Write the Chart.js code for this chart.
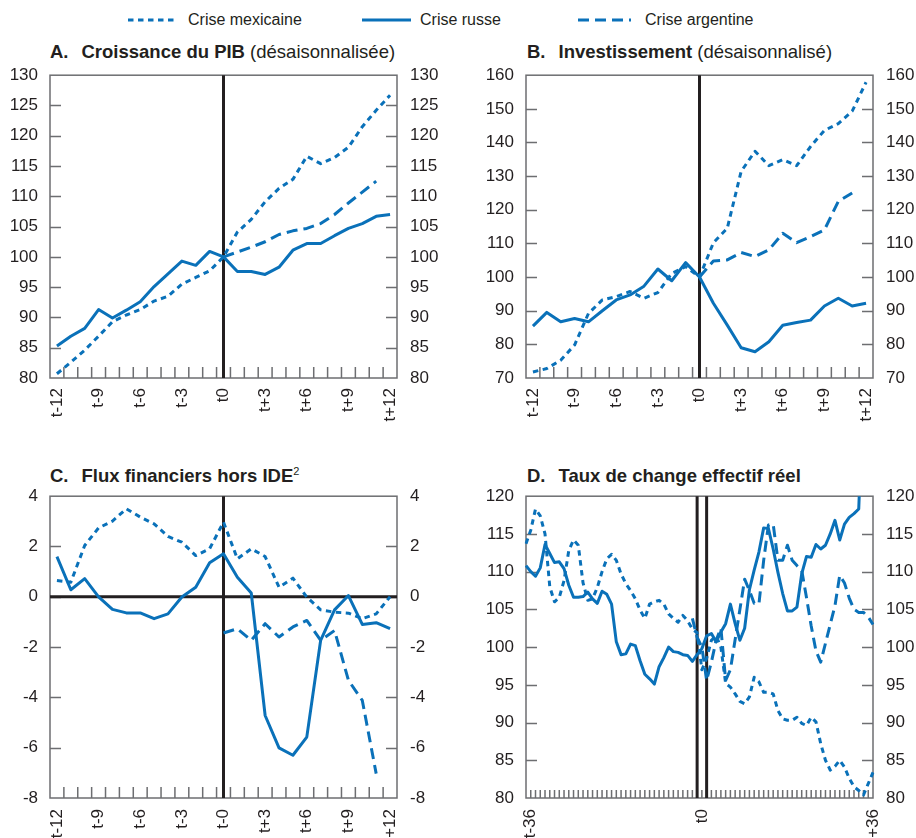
<!DOCTYPE html>
<html>
<head>
<meta charset="utf-8">
<script src="https://cdn.jsdelivr.net/npm/chart.js@4.4.1/dist/chart.umd.min.js"></script>
<style>
  body { margin: 0; background: #fff; width: 916px; height: 838px; overflow: hidden; position: relative;
         font-family: "Liberation Sans", Arial, sans-serif; color: #231f20; }
  .box { position: absolute; }
  .title { position: absolute; font-size: 18.5px; line-height: 18px; white-space: nowrap; }
  .title b span { margin-right: 13px; }
  .title sup { font-weight: normal; font-size: 11px; vertical-align: 7px; line-height: 0; }
  .leg { position: absolute; top: 12px; font-size: 16px; line-height: 16px; white-space: nowrap; }
  .leg svg { position: absolute; top: 5px; }
</style>
</head>
<body>

<div class="leg" style="left:128px"><svg width="50" height="6" style="left:0"><line x1="0" y1="3" x2="50" y2="3" stroke="#0a71b9" stroke-width="3" stroke-dasharray="5.5 4.5"/></svg><span style="margin-left:60px">Crise mexicaine</span></div>
<div class="leg" style="left:362px"><svg width="49" height="6" style="left:0"><line x1="0" y1="3" x2="49" y2="3" stroke="#0a71b9" stroke-width="3"/></svg><span style="margin-left:58px">Crise russe</span></div>
<div class="leg" style="left:578px"><svg width="53" height="6" style="left:0"><line x1="0" y1="3" x2="53" y2="3" stroke="#0a71b9" stroke-width="3" stroke-dasharray="11 6"/></svg><span style="margin-left:67px">Crise argentine</span></div>

<div class="title" style="left:50px;top:43px"><b><span>A.</span>Croissance du PIB</b> (désaisonnalisée)</div>
<div class="title" style="left:527px;top:43px"><b><span>B.</span>Investissement</b> (désaisonnalisé)</div>
<div class="title" style="left:50px;top:467px"><b><span>C.</span>Flux financiers hors IDE</b><sup>2</sup></div>
<div class="title" style="left:527px;top:467px"><b><span>D.</span>Taux de change effectif réel</b></div>

<div class="box" style="left:0;top:52px"><canvas id="pa" width="460" height="388"></canvas></div>
<div class="box" style="left:460px;top:52px"><canvas id="pb" width="456" height="388"></canvas></div>
<div class="box" style="left:0;top:473px"><canvas id="pc" width="460" height="365"></canvas></div>
<div class="box" style="left:460px;top:473px"><canvas id="pd" width="456" height="365"></canvas></div>

<script>
const BLUE = '#0a71b9';
const INK = '#231f20';
const FRAME = '#6d6e71';
const TICK_FONT = { family: '"Liberation Sans", Arial, sans-serif', size: 17 };

// ── categories ─────────────────────────────────────────
const quarters = ['t-12','t-11','t-10','t-9','t-8','t-7','t-6','t-5','t-4','t-3','t-2','t-1','t0',
  't+1','t+2','t+3','t+4','t+5','t+6','t+7','t+8','t+9','t+10','t+11','t+12'];
const quarterTicks = ['t-12','t-9','t-6','t-3','t0','t+3','t+6','t+9','t+12'];
const quartersC = ['t-12','t-11','t-10','t-9','t-8','t-7','t-6','t-5','t-4','t-3','t-2','t-1','t-0',
  't+1','t+2','t+3','t+4','t+5','t+6','t+7','t+8','t+9','t+10','t+11','t+12'];
const quarterTicksC = ['t-12','t-9','t-6','t-3','t-0','t+3','t+6','t+9','t+12'];
const months = ['t-37','t-36','t-35','t-34','t-33','t-32','t-31','t-30','t-29','t-28','t-27','t-26','t-25',
  't-24','t-23','t-22','t-21','t-20','t-19','t-18','t-17','t-16','t-15','t-14','t-13','t-12','t-11','t-10',
  't-9','t-8','t-7','t-6','t-5','t-4','t-3','t-2','t-1','t0','t+1','t+2','t+3','t+4','t+5','t+6','t+7',
  't+8','t+9','t+10','t+11','t+12','t+13','t+14','t+15','t+16','t+17','t+18','t+19','t+20','t+21','t+22',
  't+23','t+24','t+25','t+26','t+27','t+28','t+29','t+30','t+31','t+32','t+33','t+34','t+35','t+36'];
const monthTicks = ['t-36','t0','t+36'];

// ── A. Croissance du PIB ───────────────────────────────
const aMex = [80.7, 82.6, 84.6, 86.9, 89.3, 90.4, 91.3, 92.7, 93.5, 95.5, 96.6, 97.7, 100,
  104.1, 106.2, 109.1, 111.3, 112.8, 116.6, 115.4, 116.4, 118.1, 121.5, 124.2, 126.7];
const aRusse = [85.3, 86.9, 88.2, 91.3, 89.9, 91.2, 92.6, 95.1, 97.2, 99.3, 98.6, 100.9, 100,
  97.6, 97.6, 97.1, 98.3, 101.1, 102.2, 102.2, 103.5, 104.7, 105.5, 106.7, 107.0];
const aArg = [null, null, null, null, null, null, null, null, null, null, null, null, 100,
  100.8, 101.6, 102.5, 103.7, 104.3, 104.7, 105.5, 107.0, 108.9, 110.7, 112.5, null];

// ── B. Investissement ──────────────────────────────────
const bMex = [71.8, 72.8, 75.3, 79.8, 89.2, 93.2, 94.2, 95.7, 93.7, 95.4, 101.1, 103.1, 100,
  110.2, 114.5, 131.4, 137.4, 133.1, 134.9, 133.1, 138.8, 143.6, 145.6, 149.3, 157.9];
const bRusse = [85.4, 89.5, 86.7, 87.7, 86.7, 90.0, 93.2, 94.7, 97.3, 102.4, 98.9, 104.3, 100,
  92.2, 85.7, 79.0, 77.8, 80.8, 85.7, 86.5, 87.2, 91.4, 93.7, 91.4, 92.2];
const bArg = [null, null, null, null, null, null, null, null, null, null, null, null, 100,
  104.8, 105.1, 107.3, 106.1, 108.1, 113.0, 110.2, 112.0, 114.0, 122.5, 125.0, null];

// ── C. Flux financiers hors IDE ────────────────────────
const cMex = [0.65, 0.58, 2.04, 2.74, 3.01, 3.5, 3.17, 2.9, 2.4, 2.17, 1.64, 1.91, 2.97,
  1.51, 1.91, 1.6, 0.38, 0.74, -0.01, -0.52, -0.61, -0.65, -0.87, -0.68, 0.0];
const cRusse = [1.6, 0.28, 0.72, 0.0, -0.5, -0.64, -0.64, -0.87, -0.68, -0.01, 0.38, 1.35, 1.71,
  0.78, 0.15, -4.72, -6.01, -6.3, -5.58, -1.73, -0.52, 0.05, -1.1, -1.03, -1.27];
const cArg = [null, null, null, null, null, null, null, null, null, null, null, null, -1.44,
  -1.27, -1.73, -1.07, -1.6, -1.2, -0.94, -1.73, -1.34, -3.32, -4.12, -7.03, null];

// ── D. Taux de change effectif réel (mensuel) ──────────
const dMex = [113.7, 115.5, 118.3, 117.4, 115.0, 108.0, 106.0, 106.6, 108.8, 112.8,
  114.2, 113.5, 108.5, 106.2, 106.4, 107.9, 110.0, 111.7, 112.3, 111.5,
  109.7, 108.4, 107.5, 106.4, 104.9, 103.8, 105.7, 106.0, 106.2, 105.7,
  104.4, 103.8, 103.3, 104.2, 103.5, 102.4, 101.9, 97.0, 98.5, 100.9,
  101.5, 100.0, 95.2, 94.7, 93.8, 92.8, 92.5, 93.4, 96.0, 95.4,
  94.0, 94.0, 93.8, 91.6, 90.5, 90.3, 90.3, 90.7, 89.9, 89.6,
  90.7, 90.1, 87.2, 85.0, 83.7, 84.2, 85.0, 84.1, 82.6, 81.5,
  81.0, 80.4, 81.9, 83.4];
const dRusse = [110.8, 110.0, 109.4, 110.5, 113.6, 112.4, 111.2, 111.3, 110.4, 108.2,
  106.6, 106.6, 106.7, 107.3, 106.4, 105.8, 107.4, 107.0, 105.7, 100.7,
  99.0, 99.1, 100.4, 100.2, 98.2, 96.4, 95.8, 95.1, 97.4, 98.6,
  100.0, 99.4, 99.3, 99.0, 98.9, 98.1, 99.0, 99.8, 101.5, 101.8,
  100.7, 102.0, 103.1, 105.7, 103.1, 100.9, 102.5, 107.6, 110.2, 112.6,
  115.8, 115.7, 113.0, 109.9, 107.1, 104.8, 104.8, 105.3, 109.7, 112.0,
  111.9, 113.6, 113.0, 113.5, 115.0, 116.8, 114.2, 116.3, 117.2, 117.7,
  118.3, 135, null, null];
const dArg = [null, null, null, null, null, null, null, null, null, null,
  null, null, null, null, null, null, null, null, null, null,
  null, null, null, null, null, null, null, null, null, null,
  null, null, null, null, null, 103.8, 101.3, 100.0, 95.6, 98.0,
  100.9, 102.5, 95.6, 97.0, 101.0, 105.0, 109.0, 107.5, 105.8, 105.7,
  111.5, 116.2, 116.3, 111.5, 111.5, 113.5, 111.5, 110.8, 110.2, 106.6,
  102.8, 99.5, 98.0, 100.5, 103.0, 105.5, 109.5, 108.5, 106.5, 105.0,
  104.6, 104.6, 104.0, 103.0];

// frame, inward tick marks and black reference lines
const panelFrame = {
  id: 'panelFrame',
  beforeDatasetsDraw(chart, _args, opts) {
    const { ctx, chartArea: a } = chart;
    const x = chart.scales.x, y = chart.scales.y;
    ctx.save();
    ctx.strokeStyle = FRAME;
    ctx.lineWidth = 1.5;
    ctx.beginPath();
    y.ticks.forEach(t => {
      if (t.value <= y.min || t.value >= y.max) return;
      const py = Math.round(y.getPixelForValue(t.value)) + 0.5;
      ctx.moveTo(a.left, py); ctx.lineTo(a.left + opts.yTick, py);
      ctx.moveTo(a.right, py); ctx.lineTo(a.right - opts.yTick, py);
    });
    const n = chart.data.labels.length;
    for (let i = 1; i < n; i++) {
      let px;
      if (opts.between) px = (x.getPixelForValue(i - 1) + x.getPixelForValue(i)) / 2;
      else if (i < n - 1) px = x.getPixelForValue(i);
      else continue;
      ctx.moveTo(px, a.bottom); ctx.lineTo(px, a.bottom - opts.xTick);
    }
    ctx.stroke();
    ctx.strokeRect(a.left, a.top, a.right - a.left, a.bottom - a.top);

    ctx.strokeStyle = INK;
    ctx.lineWidth = 3;
    ctx.beginPath();
    (opts.vLines || []).forEach(i => {
      const px = x.getPixelForValue(i);
      ctx.moveTo(px, a.top); ctx.lineTo(px, a.bottom);
    });
    (opts.hLines || []).forEach(v => {
      const py = y.getPixelForValue(v);
      ctx.moveTo(a.left, py); ctx.lineTo(a.right, py);
    });
    ctx.stroke();
    ctx.restore();
  },
};

function series(data, dash) {
  return {
    data,
    borderColor: BLUE,
    borderWidth: 3,
    borderDash: dash,
    borderCapStyle: 'butt',
    borderJoinStyle: 'round',
    pointRadius: 0,
    tension: 0,
    fill: false,
    spanGaps: false,
  };
}

function yAxis(position, cfg, width, padding) {
  return {
    position,
    min: cfg.min,
    max: cfg.max,
    grid: { display: false, drawTicks: false },
    border: { display: false },
    ticks: { stepSize: cfg.step, padding, color: INK, font: TICK_FONT },
    afterFit: s => { s.width = width; },
  };
}

function panel(id, cfg) {
  return new Chart(document.getElementById(id), {
    type: 'line',
    data: {
      labels: cfg.labels,
      datasets: [
        series(cfg.mex, [5.5, 4.5]),
        series(cfg.russe, []),
        series(cfg.arg, [11, 6]),
      ],
    },
    options: {
      responsive: false,
      animation: false,
      layout: { padding: 0 },
      plugins: {
        legend: { display: false },
        tooltip: { enabled: false },
        panelFrame: { yTick: 11, xTick: cfg.xTick, between: cfg.offset, vLines: cfg.vLines, hLines: cfg.hLines },
      },
      scales: {
        x: {
          type: 'category',
          offset: cfg.offset,
          grid: { display: false, drawTicks: false },
          border: { display: false },
          ticks: {
            autoSkip: false, minRotation: 90, maxRotation: 90, padding: cfg.xPad,
            color: INK, font: TICK_FONT,
            callback(v) {
              const l = this.getLabelForValue(v);
              return cfg.tickLabels.includes(l) ? l : '';
            },
          },
          afterFit: s => { s.height = cfg.xHeight; },
        },
        y: yAxis('left', cfg, cfg.leftW, 12),
        y2: yAxis('right', cfg, cfg.rightW, 13),
      },
    },
    plugins: [panelFrame],
  });
}

panel('pa', { labels: quarters, tickLabels: quarterTicks, mex: aMex, russe: aRusse, arg: aArg,
  min: 80, max: 130, step: 5, offset: true, xTick: 11, xPad: 10, xHeight: 62,
  leftW: 50, rightW: 63, vLines: [12] });
panel('pb', { labels: quarters, tickLabels: quarterTicks, mex: bMex, russe: bRusse, arg: bArg,
  min: 70, max: 160, step: 10, offset: true, xTick: 11, xPad: 10, xHeight: 62,
  leftW: 66, rightW: 43, vLines: [12] });
panel('pc', { labels: quartersC, tickLabels: quarterTicksC, mex: cMex, russe: cRusse, arg: cArg,
  min: -8, max: 4, step: 2, offset: true, xTick: 11, xPad: 11, xHeight: 40,
  leftW: 50, rightW: 63, vLines: [12], hLines: [0] });
panel('pd', { labels: months, tickLabels: monthTicks, mex: dMex, russe: dRusse, arg: dArg,
  min: 80, max: 120, step: 5, offset: false, xTick: 8, xPad: 11, xHeight: 40,
  leftW: 66, rightW: 43, vLines: [36, 38] });
</script>
</body>
</html>
